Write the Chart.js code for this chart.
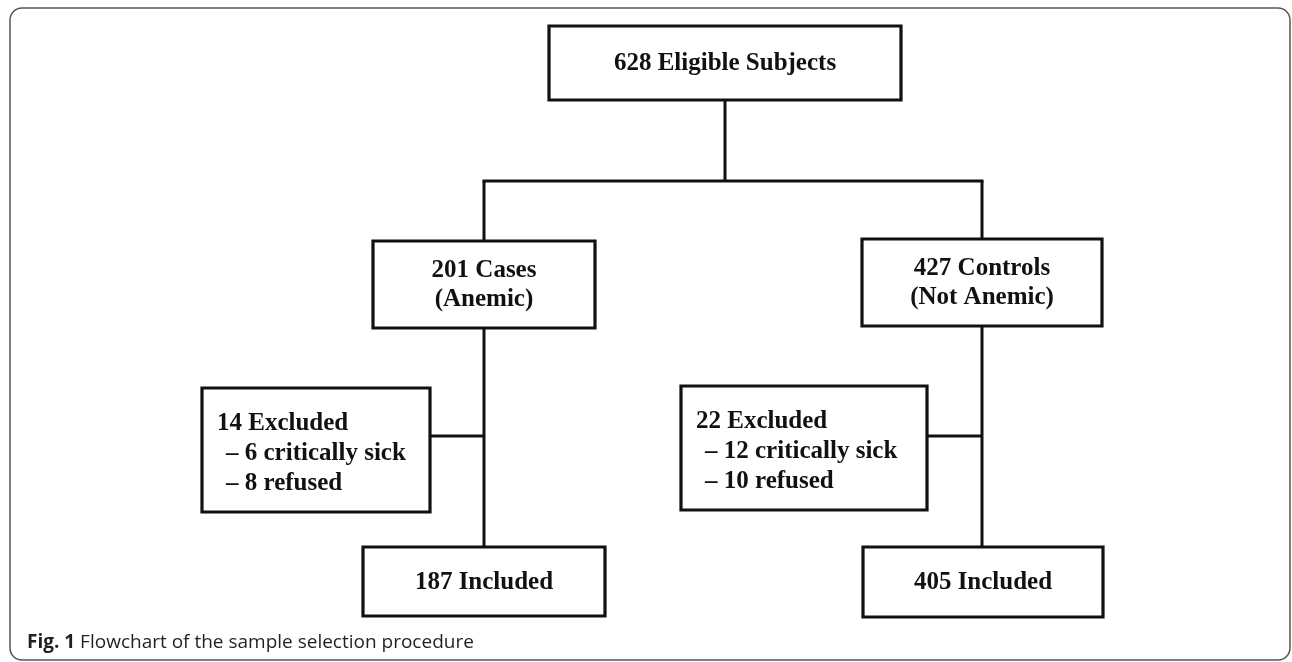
<!DOCTYPE html>
<html>
<head>
<meta charset="utf-8">
<script src="https://cdn.jsdelivr.net/npm/chart.js@4.4.1/dist/chart.umd.min.js"></script>
<style>
  html, body { margin: 0; padding: 0; background: #fff; }
  #wrap { position: relative; width: 1292px; height: 662px; }
  #caption {
    position: absolute; left: 27px; top: 628px;
    font-family: "Open Sans", "Noto Sans", sans-serif; font-size: 19px; color: #231f20;
  }
</style>
</head>
<body>
<div id="wrap">
  <canvas id="flow" width="1292" height="662"></canvas>
  <div id="caption"><b>Fig. 1</b> Flowchart of the sample selection procedure</div>
</div>
<script>
// valores do fluxograma
const eligibleTotal = 628;
const groupNames = ["Cases", "Controls"];
const groupNotes = ["(Anemic)", "(Not Anemic)"];
const groupCounts = [201, 427];
const excludedCounts = [14, 22];
const sickCounts = [6, 12];
const refusedCounts = [8, 10];
const includedCounts = [187, 405];

// layout (unidades do gráfico = pixels da figura)
const topBox = { x0: 549, y0: 26, x1: 901, y1: 100 };
const colX = [484, 982];
const branchY = 181;
const groupBoxes = [
  { x0: 373, y0: 241, x1: 595, y1: 328 },
  { x0: 862, y0: 239, x1: 1102, y1: 326 }
];
const excludedBoxes = [
  { x0: 202, y0: 388, x1: 430, y1: 512 },
  { x0: 681, y0: 386, x1: 927, y1: 510 }
];
const excludedLinkY = 436;
const includedBoxes = [
  { x0: 363, y0: 547, x1: 605, y1: 616 },
  { x0: 863, y0: 547, x1: 1103, y1: 617 }
];

function rectPoints(b) {
  return [
    { x: b.x0, y: b.y0 }, { x: b.x1, y: b.y0 }, { x: b.x1, y: b.y1 },
    { x: b.x0, y: b.y1 }, { x: b.x0, y: b.y0 }, { x: b.x1, y: b.y0 }
  ];
}

function seg(x0, y0, x1, y1) {
  return [{ x: x0, y: y0 }, { x: x1, y: y1 }];
}

const boxes = [topBox, ...groupBoxes, ...excludedBoxes, ...includedBoxes];
const topMid = (topBox.x0 + topBox.x1) / 2;

const links = [
  seg(topMid, topBox.y1, topMid, branchY),
  seg(colX[0] - 1.5, branchY, colX[1] + 1.5, branchY)
];
[0, 1].forEach(i => {
  links.push(seg(colX[i], branchY, colX[i], groupBoxes[i].y0));
  links.push(seg(colX[i], groupBoxes[i].y1, colX[i], includedBoxes[i].y0));
  links.push(seg(excludedBoxes[i].x1, excludedLinkY, colX[i], excludedLinkY));
});

const datasets = [];
boxes.forEach(b => datasets.push({
  data: rectPoints(b), borderColor: "#111", borderWidth: 3.2,
  pointRadius: 0, borderJoinStyle: "miter", tension: 0
}));
links.forEach(l => datasets.push({
  data: l, borderColor: "#111", borderWidth: 3,
  pointRadius: 0, borderCapStyle: "butt", tension: 0
}));

// textos das caixas
const labels = [
  { box: topBox, lines: [eligibleTotal + " Eligible Subjects"], align: "center" }
];
[0, 1].forEach(i => {
  labels.push({ box: groupBoxes[i], lines: [groupCounts[i] + " " + groupNames[i], groupNotes[i]], align: "center" });
  labels.push({
    box: excludedBoxes[i], align: "left",
    lines: [excludedCounts[i] + " Excluded", "\u2013 " + sickCounts[i] + " critically sick", "\u2013 " + refusedCounts[i] + " refused"]
  });
  labels.push({ box: includedBoxes[i], lines: [includedCounts[i] + " Included"], align: "center" });
});

const boxText = {
  id: "boxText",
  afterDatasetsDraw(chart) {
    const { ctx, scales: { x, y } } = chart;
    ctx.save();
    ctx.fillStyle = "#111";
    ctx.font = "bold 25px 'Liberation Serif', 'Times New Roman', serif";
    ctx.textBaseline = "middle";
    labels.forEach(l => {
      const x0 = x.getPixelForValue(l.box.x0), x1 = x.getPixelForValue(l.box.x1);
      const y0 = y.getPixelForValue(l.box.y0), y1 = y.getPixelForValue(l.box.y1);
      if (l.align === "left") {
        const lh = 30;
        const start = y0 + 36;
        ctx.textAlign = "left";
        l.lines.forEach((t, k) => ctx.fillText(t, x0 + (k === 0 ? 15 : 24), start + k * lh));
      } else {
        const lh = 29;
        const start = (y0 + y1) / 2 - (l.lines.length - 1) * lh / 2 + 1;
        ctx.textAlign = "center";
        l.lines.forEach((t, k) => ctx.fillText(t, (x0 + x1) / 2, start + k * lh));
      }
    });
    ctx.restore();
  }
};

// moldura arredondada
const frame = {
  id: "frame",
  beforeDatasetsDraw(chart) {
    const { ctx, scales: { x, y } } = chart;
    ctx.save();
    ctx.strokeStyle = "#555";
    ctx.lineWidth = 1.5;
    ctx.beginPath();
    ctx.roundRect(x.getPixelForValue(10), y.getPixelForValue(8),
      x.getPixelForValue(1290) - x.getPixelForValue(10),
      y.getPixelForValue(660) - y.getPixelForValue(8), 12);
    ctx.stroke();
    ctx.restore();
  }
};

new Chart(document.getElementById("flow").getContext("2d"), {
  type: "line",
  data: { datasets },
  options: {
    responsive: false,
    animation: false,
    parsing: false,
    layout: { padding: 0 },
    plugins: { legend: { display: false }, tooltip: { enabled: false } },
    scales: {
      x: { type: "linear", min: 0, max: 1292, display: false },
      y: { type: "linear", min: 0, max: 662, reverse: true, display: false }
    }
  },
  plugins: [frame, boxText]
});
</script>
</body>
</html>
